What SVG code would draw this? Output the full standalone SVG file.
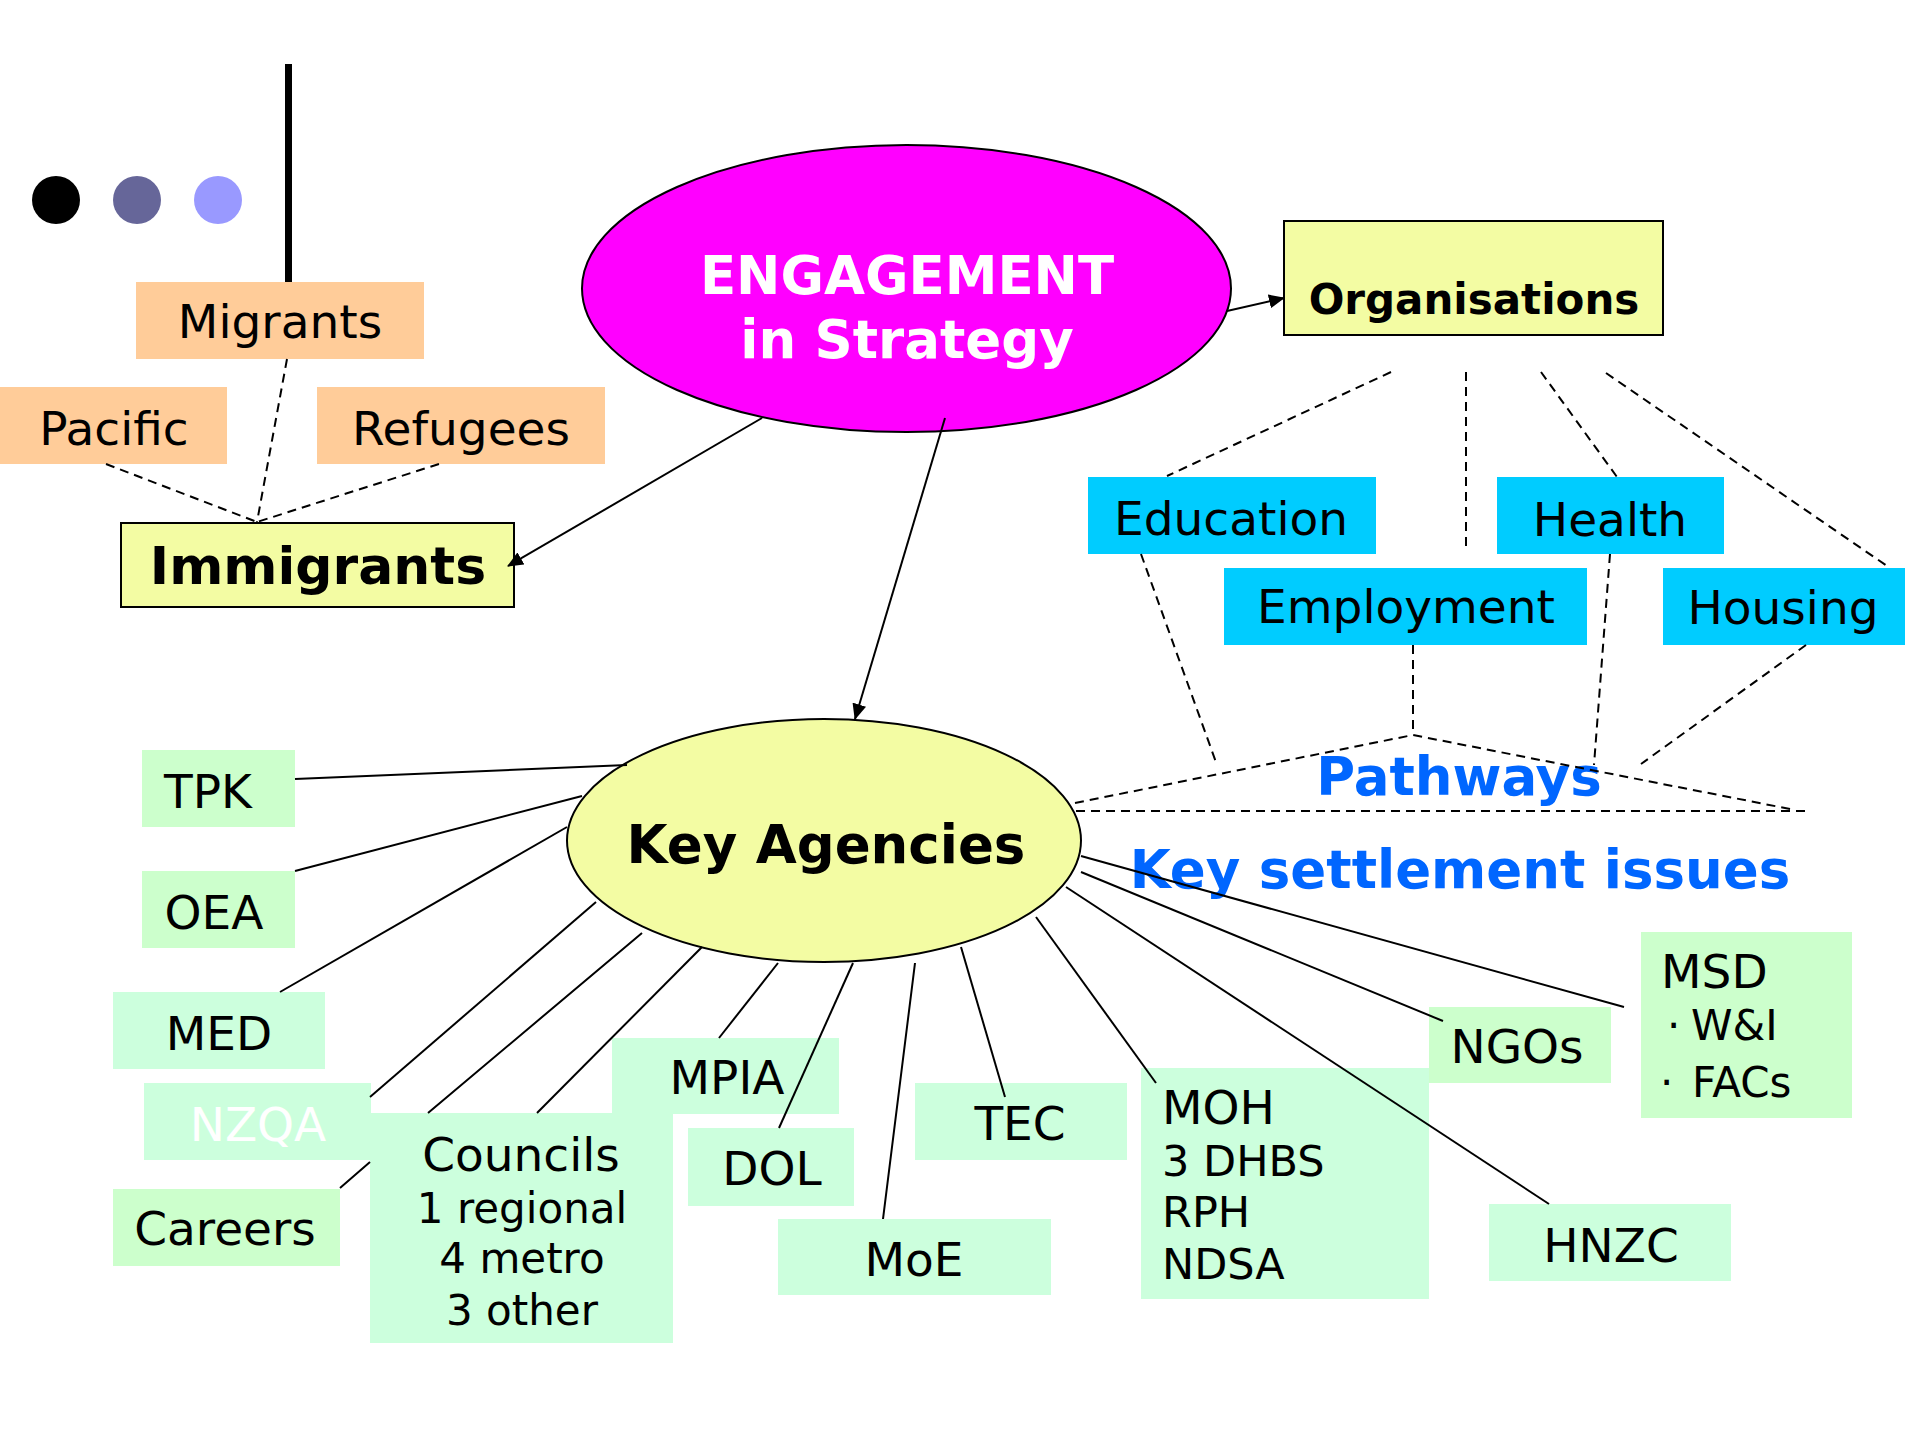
<svg xmlns="http://www.w3.org/2000/svg" width="1920" height="1440" viewBox="0 0 1920 1440">
  <style>
    text { font-family: "DejaVu Sans", Verdana, sans-serif; fill: #000; }
    .t46 { font-size: 47px; }
    .t41 { font-size: 42px; }
    .t42 { font-size: 43px; }
    .mid { text-anchor: middle; }
    .bold { font-weight: bold; }
    .peach { fill: #FFCC99; }
    .cyan { fill: #00CCFF; }
    .pale { fill: #F3FCA3; stroke: #000; stroke-width: 2; }
    .g1 { fill: #CCFFCC; }
    .g2 { fill: #CCFFDD; }
    .solid { stroke: #000; stroke-width: 2; fill: none; }
    .dash { stroke: #000; stroke-width: 2; fill: none; stroke-dasharray: 9 6; }
    .blue { fill: #0066FF; font-size: 53px; font-weight: bold; }
  </style>
  <defs>
    <marker id="arrow" viewBox="0 0 16 14" refX="15" refY="7" markerWidth="16" markerHeight="14" markerUnits="userSpaceOnUse" orient="auto">
      <path d="M0,0 L16,7 L0,14 Z" fill="#000"/>
    </marker>
  </defs>

  <rect width="1920" height="1440" fill="#fff"/>

  <!-- title bar decoration -->
  <g id="decoration">
    <rect x="285" y="64" width="7" height="219" fill="#000"/>
    <ellipse cx="56" cy="200" rx="24" ry="24" fill="#000"/>
    <ellipse cx="137" cy="200" rx="24" ry="24" fill="#666699"/>
    <ellipse cx="218" cy="200" rx="24" ry="24" fill="#9999FF"/>
  </g>

  <!-- immigrant groups -->
  <g id="migrants">
    <rect class="peach" x="136" y="282" width="288" height="77"/>
    <text class="t46 mid" x="280" y="338">Migrants</text>
  </g>
  <g id="pacific">
    <rect class="peach" x="0" y="387" width="227" height="77"/>
    <text class="t46 mid" x="114" y="445">Pacific</text>
  </g>
  <g id="refugees">
    <rect class="peach" x="317" y="387" width="288" height="77"/>
    <text class="t46 mid" x="461" y="445">Refugees</text>
  </g>
  <g id="immigrants">
    <rect class="pale" x="121" y="523" width="393" height="84"/>
    <text class="mid bold" x="318" y="584" font-size="52">Immigrants</text>
  </g>

  <!-- central ellipse -->
  <g id="engagement">
    <ellipse cx="906.5" cy="288.5" rx="324.5" ry="143.5" fill="#FF00FF" stroke="#000" stroke-width="2"/>
    <text class="mid bold" x="907" y="294" font-size="53" style="fill:#fff">ENGAGEMENT</text>
    <text class="mid bold" x="907" y="358" font-size="53" style="fill:#fff">in Strategy</text>
  </g>

  <g id="organisations">
    <rect class="pale" x="1284" y="221" width="379" height="114"/>
    <text class="mid bold" x="1474" y="314" font-size="42">Organisations</text>
  </g>

  <!-- sectors -->
  <g id="education">
    <rect class="cyan" x="1088" y="477" width="288" height="77"/>
    <text class="t46 mid" x="1231" y="535">Education</text>
  </g>
  <g id="health">
    <rect class="cyan" x="1497" y="477" width="227" height="77"/>
    <text class="t46 mid" x="1610" y="536">Health</text>
  </g>
  <g id="employment">
    <rect class="cyan" x="1224" y="568" width="363" height="77"/>
    <text class="t46 mid" x="1406" y="623">Employment</text>
  </g>
  <g id="housing">
    <rect class="cyan" x="1663" y="568" width="242" height="77"/>
    <text class="t46 mid" x="1783" y="624">Housing</text>
  </g>

  <g id="pathways">
    <text class="blue mid" x="1459" y="795">Pathways</text>
  </g>
  <g id="settlement-issues">
    <text class="blue mid" x="1460" y="888">Key settlement issues</text>
  </g>

  <g id="key-agencies">
    <ellipse cx="824" cy="840.5" rx="257" ry="121.5" fill="#F3FCA3" stroke="#000" stroke-width="2"/>
    <text class="mid bold" x="826" y="863" font-size="53">Key Agencies</text>
  </g>

  <!-- agencies -->
  <g id="tpk">
    <rect class="g1" x="142" y="750" width="153" height="77"/>
    <text class="t46 mid" x="208" y="808">TPK</text>
  </g>
  <g id="oea">
    <rect class="g1" x="142" y="871" width="153" height="77"/>
    <text class="t46 mid" x="214" y="929">OEA</text>
  </g>
  <g id="med">
    <rect class="g2" x="113" y="992" width="212" height="77"/>
    <text class="t46 mid" x="219" y="1050">MED</text>
  </g>
  <g id="nzqa">
    <rect class="g2" x="144" y="1083" width="227" height="77"/>
    <text class="t46 mid" x="258" y="1141" style="fill:#fff">NZQA</text>
  </g>
  <g id="careers">
    <rect class="g1" x="113" y="1189" width="227" height="77"/>
    <text class="t46 mid" x="225" y="1245">Careers</text>
  </g>
  <g id="councils">
    <rect class="g2" x="370" y="1113" width="303" height="230"/>
    <text class="t46 mid" x="521" y="1171">Councils</text>
    <text class="t41 mid" x="522" y="1223">1 regional</text>
    <text class="t41 mid" x="522" y="1273">4 metro</text>
    <text class="t41 mid" x="522" y="1325">3 other</text>
  </g>
  <g id="mpia">
    <rect class="g2" x="612" y="1038" width="227" height="76"/>
    <text class="t46 mid" x="727" y="1094">MPIA</text>
  </g>
  <g id="dol">
    <rect class="g2" x="688" y="1128" width="166" height="78"/>
    <text class="t46 mid" x="772" y="1185">DOL</text>
  </g>
  <g id="moe">
    <rect class="g2" x="778" y="1219" width="273" height="76"/>
    <text class="t46 mid" x="914" y="1276">MoE</text>
  </g>
  <g id="tec">
    <rect class="g2" x="915" y="1083" width="212" height="77"/>
    <text class="t46 mid" x="1020" y="1140">TEC</text>
  </g>
  <g id="moh">
    <rect class="g2" x="1141" y="1068" width="288" height="231"/>
    <text class="t46" x="1162" y="1124">MOH</text>
    <text class="t42" x="1162" y="1176">3 DHBS</text>
    <text class="t42" x="1162" y="1227">RPH</text>
    <text class="t42" x="1162" y="1279">NDSA</text>
  </g>
  <g id="hnzc">
    <rect class="g2" x="1489" y="1204" width="242" height="77"/>
    <text class="t46 mid" x="1611" y="1262">HNZC</text>
  </g>
  <g id="ngos">
    <rect class="g1" x="1429" y="1007" width="182" height="76"/>
    <text class="t46 mid" x="1517" y="1063">NGOs</text>
  </g>
  <g id="msd">
    <rect class="g1" x="1641" y="932" width="211" height="186"/>
    <text class="t46" x="1661" y="988">MSD</text>
    <text class="t41"><tspan x="1667" y="1040">·</tspan><tspan x="1691" y="1040">W&amp;I</tspan></text>
    <text class="t41"><tspan x="1660" y="1097">·</tspan><tspan x="1692" y="1097">FACs</tspan></text>
  </g>

  <!-- connectors -->
  <g id="connectors">
    <!-- groups of immigrants -->
    <line class="dash" x1="287" y1="359" x2="257" y2="522"/>
    <line class="dash" x1="106" y1="464" x2="257" y2="522"/>
    <line class="dash" x1="439" y1="464" x2="257" y2="522"/>

    <!-- arrows from the strategy -->
    <line class="solid" x1="762" y1="418" x2="508" y2="566" marker-end="url(#arrow)"/>
    <line class="solid" x1="1227" y1="311" x2="1284" y2="298" marker-end="url(#arrow)"/>
    <line class="solid" x1="945" y1="418" x2="855" y2="719" marker-end="url(#arrow)"/>

    <!-- organisations to sectors -->
    <line class="dash" x1="1391" y1="372" x2="1167" y2="476"/>
    <line class="dash" x1="1466" y1="372" x2="1466" y2="548"/>
    <line class="dash" x1="1541" y1="372" x2="1617" y2="477"/>
    <line class="dash" x1="1606" y1="373" x2="1890" y2="568"/>

    <!-- sectors to pathways -->
    <line class="dash" x1="1141" y1="554" x2="1217" y2="765"/>
    <line class="dash" x1="1413" y1="645" x2="1413" y2="735"/>
    <line class="dash" x1="1610" y1="554" x2="1594" y2="765"/>
    <line class="dash" x1="1806" y1="645" x2="1641" y2="764"/>
    <polyline class="dash" points="1075,803 1413,735 1795,810"/>
    <line class="dash" x1="1076" y1="811" x2="1806" y2="811"/>

    <!-- key agencies spokes -->
    <line class="solid" x1="295" y1="779" x2="627" y2="765"/>
    <line class="solid" x1="295" y1="871" x2="582" y2="796"/>
    <line class="solid" x1="280" y1="992" x2="567" y2="827"/>
    <line class="solid" x1="370" y1="1097" x2="596" y2="902"/>
    <path class="solid" d="M340,1188 L370,1162 M428,1113 L642,933"/>
    <line class="solid" x1="537" y1="1113" x2="702" y2="947"/>
    <line class="solid" x1="719" y1="1038" x2="778" y2="963"/>
    <line class="solid" x1="779" y1="1128" x2="853" y2="963"/>
    <line class="solid" x1="883" y1="1219" x2="915" y2="963"/>
    <line class="solid" x1="1005" y1="1097" x2="961" y2="947"/>
    <line class="solid" x1="1156" y1="1083" x2="1036" y2="917"/>
    <line class="solid" x1="1549" y1="1204" x2="1066" y2="887"/>
    <line class="solid" x1="1443" y1="1021" x2="1081" y2="872"/>
    <line class="solid" x1="1624" y1="1007" x2="1081" y2="856"/>
  </g>
</svg>
